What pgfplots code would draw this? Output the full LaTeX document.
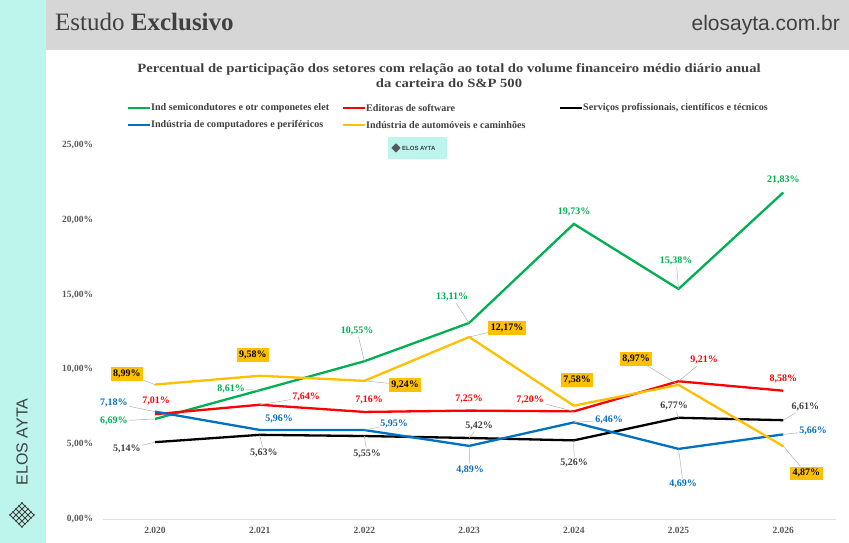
\documentclass[border=0pt]{standalone}
\usepackage{pgfplots}
\pgfplotsset{compat=1.18}
\usepackage{fontspec}
\setmainfont{Liberation Serif}
\newfontfamily\sansf{Liberation Sans}
\definecolor{cgreen}{HTML}{00B050}
\definecolor{cred}{HTML}{FF0000}
\definecolor{cblue}{HTML}{0070C0}
\definecolor{cyel}{HTML}{FFC000}
\definecolor{cblk}{HTML}{000000}
\definecolor{cstrip}{HTML}{BDF4EC}
\definecolor{chead}{HTML}{D6D6D6}
\definecolor{ctxt}{HTML}{404040}
\definecolor{ctick}{HTML}{595959}
\newcommand\dl[7]{\node[lbl,text=#6] (#1) at (axis cs:#2,#3) {#7};\draw[leader] (#1) -- (axis cs:#4,#5);}
\newcommand\dn[4]{\node[lbl,text=#3] at (axis cs:#1,#2) {#4};}
\newcommand\dy[6]{\node[ybox] (#1) at (axis cs:#2,#3) {#6};\draw[leader] (#1) -- (axis cs:#4,#5);}
\newcommand\dyn[3]{\node[ybox] at (axis cs:#1,#2) {#3};}
\begin{document}
\begin{tikzpicture}[x=1pt,y=1pt,
  lbl/.style={font=\fontsize{10}{10}\selectfont\bfseries,inner sep=1.5pt},
  ybox/.style={font=\fontsize{10}{10}\selectfont\bfseries,fill=cyel,text=black,inner xsep=2.5pt,inner ysep=2.5pt},
  leader/.style={draw=gray!60,line width=0.5pt}]
\useasboundingbox (0,0) rectangle (849,543);
\fill[white] (0,0) rectangle (849,543);
\fill[cstrip] (0,0) rectangle (46,543);
\fill[chead] (46,493) rectangle (849,543);
\node[anchor=base west,inner sep=0,text=ctxt,font=\fontsize{25}{25}\selectfont] at (55,512) {Estudo \textbf{Exclusivo}};
\node[anchor=base east,inner sep=0,text=ctxt,font=\sansf\fontsize{21}{21}\selectfont] at (840,512) {elosayta.com.br};
% left strip brand
\node[rotate=90,inner sep=0,text=ctxt,font=\sansf\fontsize{16}{16}\selectfont] at (22,101) {ELOS AYTA};
\begin{scope}[shift={(22,28)},draw=ctxt,line width=0.8pt]
  \clip (0,-13) -- (13,0) -- (0,13) -- (-13,0) -- cycle;
  \foreach \s in {-12,-6,0,6,12}{
    \draw (-20,-20+\s) -- (20,20+\s);
    \draw (-20,20+\s) -- (20,-20+\s);
  }
\end{scope}
% title
\node[text=ctxt,font=\fontsize{12.6}{15}\selectfont\bfseries,align=center] at (449,467) {\scalebox{1.16}[1]{Percentual de participação dos setores com relação ao total do volume financeiro médio diário anual}\\\scalebox{1.16}[1]{da carteira do S\&P 500}};
% legend
\begin{scope}[font=\fontsize{10.1}{10}\selectfont\bfseries,text=ctxt]
\draw[cgreen,line width=2.5pt] (128,435) -- (150,435);
\node[anchor=west,inner sep=1pt] at (150,435) {Ind semicondutores e otr componetes elet};
\draw[cred,line width=2.5pt] (343,435) -- (365,435);
\node[anchor=west,inner sep=1pt] at (365,435) {Editoras de software};
\draw[cblk,line width=2.5pt] (560,435) -- (582,435);
\node[anchor=west,inner sep=1pt] at (582,435) {Serviços profissionais, científicos e técnicos};
\draw[cblue,line width=2.5pt] (128,418) -- (150,418);
\node[anchor=west,inner sep=1pt] at (150,418) {Indústria de computadores e periféricos};
\draw[cyel,line width=2.5pt] (343,418) -- (365,418);
\node[anchor=west,inner sep=1pt] at (365,418) {Indústria de automóveis e caminhões};
\end{scope}
% mid logo
\fill[cstrip] (388,384) rectangle (447,406);
\node[anchor=west,inner sep=0,text=ctxt,font=\sansf\fontsize{6}{6}\selectfont\bfseries] at (402,395) {ELOS AYTA};
\begin{scope}[shift={(396,395)},draw=ctxt,line width=0.4pt]
  \clip (0,-4.5) -- (4.5,0) -- (0,4.5) -- (-4.5,0) -- cycle;
  \foreach \s in {-4,-2,0,2,4}{
    \draw (-8,-8+\s) -- (8,8+\s);
    \draw (-8,8+\s) -- (8,-8+\s);
  }
\end{scope}
\begin{axis}[at={(98,16)},anchor=south west,scale only axis,width=733pt,height=374pt,
  xmin=-0.5,xmax=6.5,ymin=0,ymax=25,clip=false,
  axis x line*=bottom,axis y line*=left,
  x axis line style={draw=gray!25,line width=0.8pt,-},
  y axis line style={draw=none},
  major tick length=0pt,
  xtick={0,...,6},xticklabels={2.020,2.021,2.022,2.023,2.024,2.025,2.026},
  ytick={0,5,10,15,20,25},yticklabels={0{,}00\%,5{,}00\%,10{,}00\%,15{,}00\%,20{,}00\%,25{,}00\%},
  ticklabel style={font=\fontsize{9.5}{9.5}\selectfont\bfseries,text=ctick},
  xticklabel style={yshift=-5pt},
  yticklabel style={xshift=-6pt},
  every axis plot/.style={line width=2.3pt,no markers}]
\addplot[cgreen] coordinates {(0,6.69)(1,8.61)(2,10.55)(3,13.11)(4,19.73)(5,15.38)(6,21.83)};
\addplot[cred] coordinates {(0,7.01)(1,7.64)(2,7.16)(3,7.25)(4,7.20)(5,9.21)(6,8.58)};
\addplot[cblk] coordinates {(0,5.14)(1,5.63)(2,5.55)(3,5.42)(4,5.26)(5,6.77)(6,6.61)};
\addplot[cblue] coordinates {(0,7.18)(1,5.96)(2,5.95)(3,4.89)(4,6.46)(5,4.69)(6,5.66)};
\addplot[cyel] coordinates {(0,8.99)(1,9.58)(2,9.24)(3,12.17)(4,7.58)(5,8.97)(6,4.87)};
% green labels
\dl{g0}{-0.392}{6.55}{0}{6.69}{cgreen}{6,69\%}
\dl{g1}{0.726}{8.69}{1}{8.61}{cgreen}{8,61\%}
\dl{g2}{1.930}{12.57}{2}{10.55}{cgreen}{10,55\%}
\dl{g3}{2.837}{14.84}{3}{13.11}{cgreen}{13,11\%}
\dn{4.003}{20.52}{cgreen}{19,73\%}
\dl{g5}{4.978}{17.25}{5}{15.38}{cgreen}{15,38\%}
\dn{6.0}{22.66}{cgreen}{21,83\%}
% red labels
\dn{0.010}{7.89}{cred}{7,01\%}
\dl{r1}{1.443}{8.16}{1}{7.64}{cred}{7,64\%}
\dn{2.045}{7.95}{cred}{7,16\%}
\dn{3.0}{8.02}{cred}{7,25\%}
\dl{r4}{3.583}{7.95}{4}{7.20}{cred}{7,20\%}
\dl{r5}{5.245}{10.63}{5}{9.21}{cred}{9,21\%}
\dn{6.0}{9.36}{cred}{8,58\%}
% black labels
\dl{k0}{-0.268}{4.68}{0}{5.14}{ctxt}{5,14\%}
\dl{k1}{1.041}{4.41}{1}{5.63}{ctxt}{5,63\%}
\dl{k2}{2.025}{4.34}{2}{5.55}{ctxt}{5,55\%}
\dl{k3}{3.095}{6.22}{3}{5.42}{ctxt}{5,42\%}
\dl{k4}{4.003}{3.74}{4}{5.26}{ctxt}{5,26\%}
\dl{k5}{4.958}{7.55}{5}{6.77}{ctxt}{6,77\%}
\dl{k6}{6.210}{7.49}{6}{6.61}{ctxt}{6,61\%}
% blue labels
\dl{b0}{-0.392}{7.75}{0}{7.18}{cblue}{7,18\%}
\dn{1.185}{6.68}{cblue}{5,96\%}
\dl{b2}{2.283}{6.35}{2}{5.95}{cblue}{5,95\%}
\dl{b3}{3.009}{3.28}{3}{4.89}{cblue}{4,89\%}
\dl{b4}{4.337}{6.62}{4}{6.46}{cblue}{6,46\%}
\dl{b5}{5.044}{2.34}{5}{4.69}{cblue}{4,69\%}
\dl{b6}{6.286}{5.88}{6}{5.66}{cblue}{5,66\%}
% yellow boxes
\dy{y0}{-0.268}{9.69}{0}{8.99}{8,99\%}
\dyn{0.936}{10.96}{9,58\%}
\dy{y2}{2.388}{8.96}{2}{9.24}{9,24\%}
\dy{y3}{3.363}{12.77}{3}{12.17}{12,17\%}
\dyn{4.032}{9.29}{7,58\%}
\dy{y5}{4.595}{10.70}{5}{8.97}{8,97\%}
\dy{y6}{6.220}{3.07}{6}{4.87}{4,87\%}
\end{axis}
\end{tikzpicture}
\end{document}
